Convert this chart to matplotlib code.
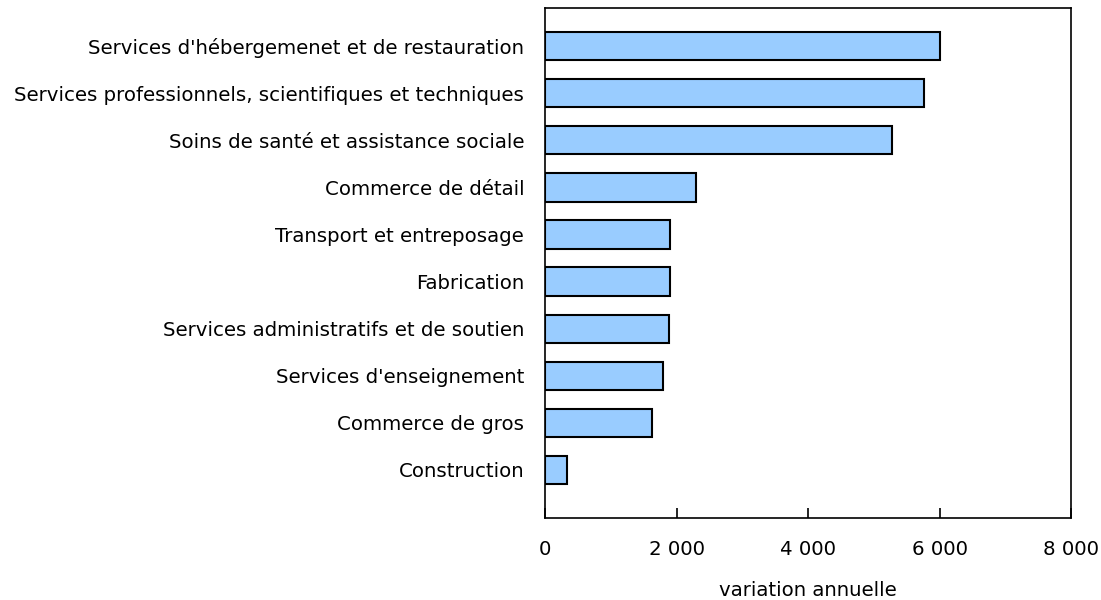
import matplotlib.pyplot as plt
from matplotlib.ticker import FuncFormatter

# data, top to bottom
categories = [
    "Services d'hébergemenet et de restauration",
    "Services professionnels, scientifiques et techniques",
    "Soins de santé et assistance sociale",
    "Commerce de détail",
    "Transport et entreposage",
    "Fabrication",
    "Services administratifs et de soutien",
    "Services d'enseignement",
    "Commerce de gros",
    "Construction",
]
values = [6000, 5770, 5270, 2300, 1900, 1895, 1890, 1800, 1625, 340]
xticks = [0, 2000, 4000, 6000, 8000]

plt.rcParams['font.family'] = ['DejaVu Sans']

fig = plt.figure(figsize=(11.01, 6.0), dpi=100)
ax = fig.add_axes([0.495, 0.1367, 0.4778, 0.85])

pos = list(range(len(categories)))
ax.barh(pos, values, height=0.6, color='#99CCFF', edgecolor='black', linewidth=1.5)

ax.set_ylim(len(categories) - 1 + 1.02, -0.81)
ax.set_xlim(0, 8000)
ax.set_yticks(pos)
ax.set_yticklabels(categories, fontsize=14.2)
ax.tick_params(axis='y', length=0, pad=15)

ax.set_xticks(xticks)
ax.xaxis.set_major_formatter(FuncFormatter(lambda v, p: "{:,}".format(int(v)).replace(",", " ")))
ax.tick_params(axis='x', direction='in', length=7.5, width=1.2, labelsize=14.2, pad=16)
ax.set_xlabel("variation annuelle", fontsize=14.2, labelpad=16)

for s in ax.spines.values():
    s.set_linewidth(1.2)

fig.savefig("out.png", dpi=100)
